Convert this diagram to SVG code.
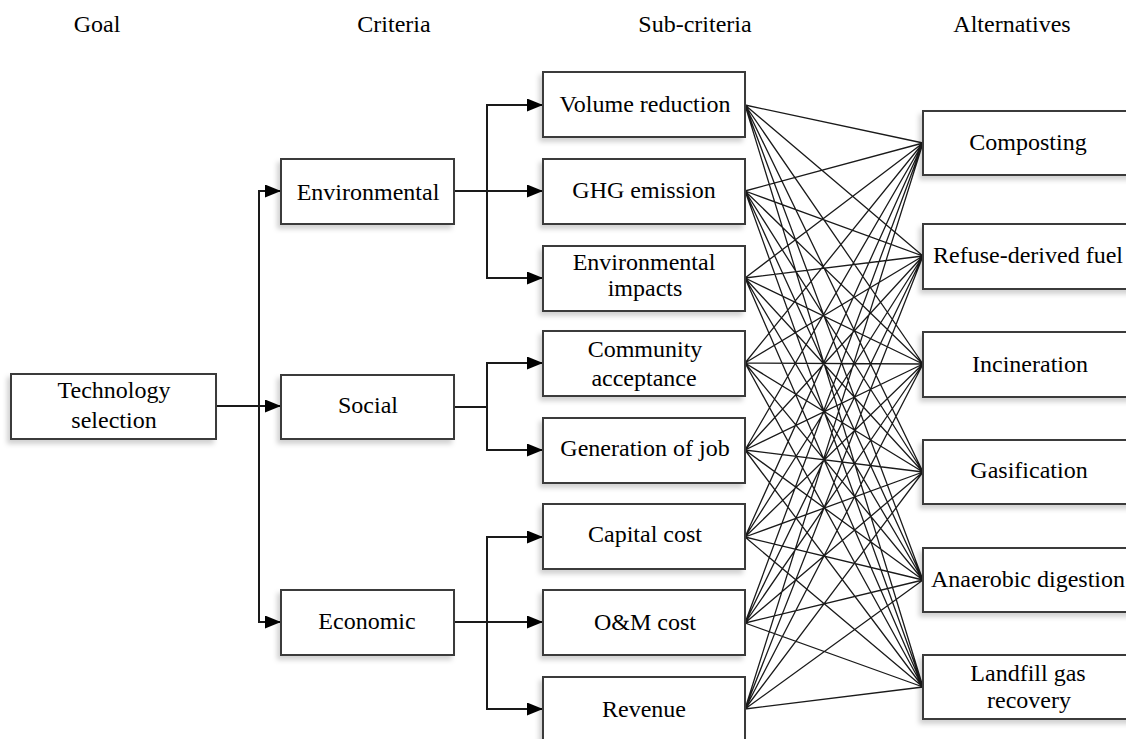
<svg xmlns="http://www.w3.org/2000/svg" width="1126" height="739" viewBox="0 0 1126 739" font-family="'Liberation Serif', 'DejaVu Serif', serif">
<style>
text{font-family:'Liberation Serif','DejaVu Serif',serif;font-size:24px;fill:#000;text-anchor:middle}
.box{fill:#fff;stroke:#3a3a3a;stroke-width:2;filter:url(#sh)}
.conn{fill:none;stroke:#1a1a1a;stroke-width:2}
.mesh{fill:none;stroke:#1a1a1a;stroke-width:1.3}
</style>
<defs>
<filter id="sh" x="-10%" y="-20%" width="120%" height="150%">
<feDropShadow dx="-3" dy="4" stdDeviation="2.5" flood-color="#000" flood-opacity="0.18"/>
</filter>
<marker id="arr" markerUnits="userSpaceOnUse" markerWidth="16" markerHeight="13" refX="16" refY="6.5" orient="auto">
<path d="M0,0 L16,6.5 L0,13 z" fill="#000"/>
</marker>
</defs>
<rect width="1126" height="739" fill="#fff"/>
<g id="headers">
<text x="97" y="32">Goal</text>
<text x="394" y="32">Criteria</text>
<text x="695" y="32">Sub-criteria</text>
<text x="1012" y="32">Alternatives</text>
</g>
<g id="connectors">
<path class="conn" marker-end="url(#arr)" d="M216,406 H281"/>
<path class="conn" marker-end="url(#arr)" d="M259,406 V191 H281"/>
<path class="conn" marker-end="url(#arr)" d="M259,406 V622 H281"/>
<path class="conn" marker-end="url(#arr)" d="M454,191 H543"/>
<path class="conn" marker-end="url(#arr)" d="M487,191 V105 H543"/>
<path class="conn" marker-end="url(#arr)" d="M487,191 V278 H543"/>
<path class="conn" marker-end="url(#arr)" d="M454,407 H487 V363 H543"/>
<path class="conn" marker-end="url(#arr)" d="M487,407 V450 H543"/>
<path class="conn" marker-end="url(#arr)" d="M454,622 H543"/>
<path class="conn" marker-end="url(#arr)" d="M487,622 V537 H543"/>
<path class="conn" marker-end="url(#arr)" d="M487,622 V709 H543"/>
<path class="mesh" d="M745,105 L923,143 M745,105 L923,256 M745,105 L923,364 M745,105 L923,472 M745,105 L923,580 M745,105 L923,687
M745,191 L923,143 M745,191 L923,256 M745,191 L923,364 M745,191 L923,472 M745,191 L923,580 M745,191 L923,687
M745,278 L923,143 M745,278 L923,256 M745,278 L923,364 M745,278 L923,472 M745,278 L923,580 M745,278 L923,687
M745,363 L923,143 M745,363 L923,256 M745,363 L923,364 M745,363 L923,472 M745,363 L923,580 M745,363 L923,687
M745,450 L923,143 M745,450 L923,256 M745,450 L923,364 M745,450 L923,472 M745,450 L923,580 M745,450 L923,687
M745,537 L923,143 M745,537 L923,256 M745,537 L923,364 M745,537 L923,472 M745,537 L923,580 M745,537 L923,687
M745,623 L923,143 M745,623 L923,256 M745,623 L923,364 M745,623 L923,472 M745,623 L923,580 M745,623 L923,687
M745,709 L923,143 M745,709 L923,256 M745,709 L923,364 M745,709 L923,472 M745,709 L923,580 M745,709 L923,687"/>
</g>
<g id="goal"><rect class="box" x="11" y="374" width="205" height="65"/><text x="114" y="398">Technology</text><text x="114" y="428">selection</text></g>
<g id="environmental"><rect class="box" x="281" y="159" width="173" height="65"/><text x="368" y="200">Environmental</text></g>
<g id="social"><rect class="box" x="281" y="375" width="173" height="64"/><text x="368" y="413">Social</text></g>
<g id="economic"><rect class="box" x="281" y="590" width="173" height="65"/><text x="367" y="629">Economic</text></g>
<g id="volume-reduction"><rect class="box" x="543" y="72" width="202" height="65"/><text x="645" y="112">Volume reduction</text></g>
<g id="ghg-emission"><rect class="box" x="543" y="159" width="202" height="65"/><text x="644" y="198">GHG emission</text></g>
<g id="environmental-impacts"><rect class="box" x="543" y="246" width="202" height="65"/><text x="644" y="270">Environmental</text><text x="645" y="296">impacts</text></g>
<g id="community-acceptance"><rect class="box" x="543" y="331" width="202" height="65"/><text x="645" y="357">Community</text><text x="644" y="386">acceptance</text></g>
<g id="generation-of-job"><rect class="box" x="543" y="418" width="202" height="65"/><text x="645" y="456">Generation of job</text></g>
<g id="capital-cost"><rect class="box" x="543" y="504" width="202" height="65"/><text x="645" y="542">Capital cost</text></g>
<g id="om-cost"><rect class="box" x="543" y="590" width="202" height="65"/><text x="645" y="630">O&amp;M cost</text></g>
<g id="revenue"><rect class="box" x="543" y="677" width="202" height="70"/><text x="644" y="717">Revenue</text></g>
<g id="composting"><rect class="box" x="923" y="111" width="215" height="64"/><text x="1028" y="150">Composting</text></g>
<g id="rdf"><rect class="box" x="923" y="224" width="215" height="65"/><text x="1028" y="263">Refuse-derived fuel</text></g>
<g id="incineration"><rect class="box" x="923" y="332" width="215" height="65"/><text x="1030" y="372">Incineration</text></g>
<g id="gasification"><rect class="box" x="923" y="440" width="215" height="64"/><text x="1029" y="478">Gasification</text></g>
<g id="anaerobic-digestion"><rect class="box" x="923" y="548" width="215" height="64"/><text x="1028" y="587">Anaerobic digestion</text></g>
<g id="landfill-gas-recovery"><rect class="box" x="923" y="655" width="215" height="64"/><text x="1028" y="681">Landfill gas</text><text x="1029" y="708">recovery</text></g>
</svg>
